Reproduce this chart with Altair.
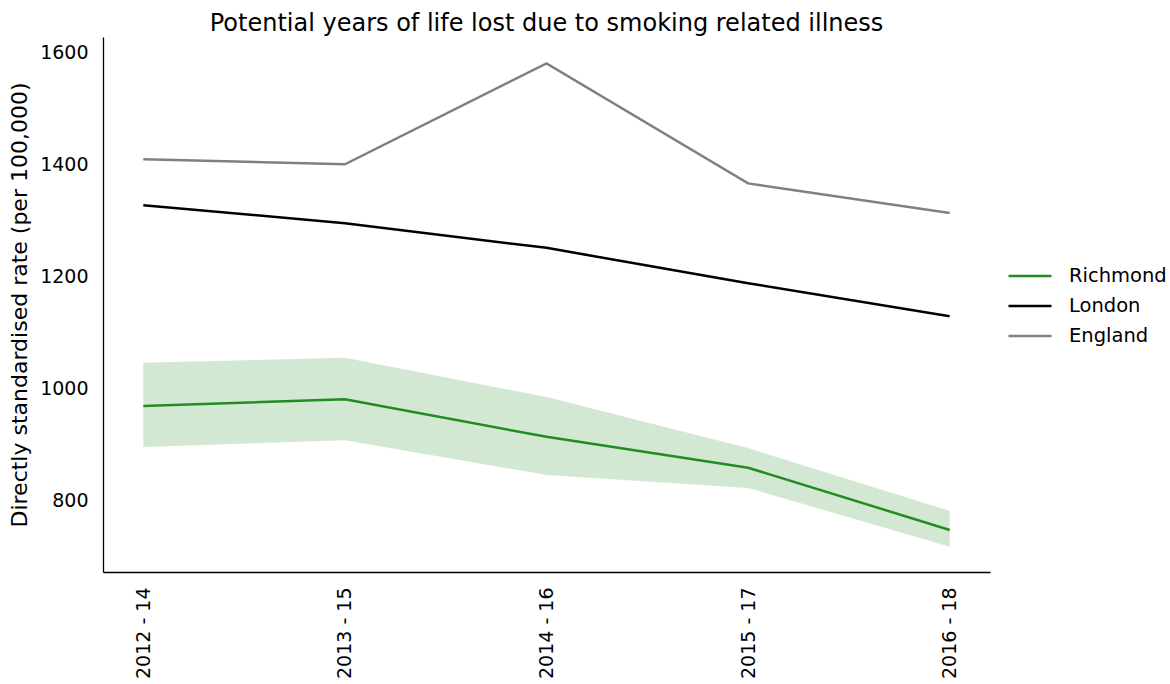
import altair as alt
import pandas as pd

periods = ["2012 - 14", "2013 - 15", "2014 - 16", "2015 - 17", "2016 - 18"]
richmond = [969, 981, 914, 859, 748]
richmond_lower = [896, 908, 846, 823, 718]
richmond_upper = [1046, 1055, 985, 894, 782]
london = [1327, 1295, 1251, 1188, 1129]
england = [1409, 1400, 1580, 1366, 1313]

areas = ["Richmond", "London", "England"]
colors = ["#228b22", "#000000", "#808080"]

lines_df = pd.DataFrame(
    [{"period": p, "area": "Richmond", "rate": v} for p, v in zip(periods, richmond)]
    + [{"period": p, "area": "London", "rate": v} for p, v in zip(periods, london)]
    + [{"period": p, "area": "England", "rate": v} for p, v in zip(periods, england)]
)
band_df = pd.DataFrame({"period": periods, "lower": richmond_lower, "upper": richmond_upper})

FONT = "DejaVu Sans"

x_enc = alt.X(
    "period:N",
    sort=periods,
    scale=alt.Scale(type="point", padding=0.2),
    axis=alt.Axis(
        title=None,
        labelAngle=270,
        labelFontSize=19,
        labelPadding=15,
        ticks=False,
        domainColor="#000000",
        domainWidth=1.3,
        labelColor="#000000",
        labelFont=FONT,
    ),
)
y_scale = alt.Scale(domain=[673, 1627], nice=False, zero=False)

band = alt.Chart(band_df).mark_area(color="#228b22", opacity=0.2).encode(
    x=x_enc,
    y=alt.Y("lower:Q", scale=y_scale),
    y2="upper:Q",
)

lines = alt.Chart(lines_df).mark_line(strokeWidth=2.5).encode(
    x=x_enc,
    y=alt.Y(
        "rate:Q",
        scale=y_scale,
        axis=alt.Axis(
            title="Directly standardised rate (per 100,000)",
            values=[800, 1000, 1200, 1400, 1600],
            format="d",
            grid=False,
            ticks=False,
            labelFontSize=19,
            labelPadding=15,
            labelFont=FONT,
            labelColor="#000000",
            titleFont=FONT,
            titleFontSize=22,
            titleFontWeight="normal",
            titleColor="#000000",
            titlePadding=8,
            domainColor="#000000",
            domainWidth=1.3,
        ),
    ),
    color=alt.Color(
        "area:N",
        scale=alt.Scale(domain=areas, range=colors),
        sort=areas,
        legend=alt.Legend(
            title=None,
            orient="none",
            legendX=915,
            legendY=227,
            symbolType="M-2,0H2",
            symbolSize=462,
            symbolStrokeWidth=2.5,
            labelFontSize=19.5,
            labelFont=FONT,
            labelColor="#000000",
            labelOffset=27,
            rowPadding=8,
        ),
    ),
    order=alt.Order("period:N"),
)

chart = (
    alt.layer(band, lines)
    .properties(
        width=887,
        height=535,
        autosize="none",
        padding={"left": 103, "top": 37, "right": 180, "bottom": 112},
        title=alt.TitleParams(
            "Potential years of life lost due to smoking related illness",
            font=FONT,
            fontSize=24,
            fontWeight="normal",
            color="#000000",
            anchor="middle",
            offset=1,
        ),
    )
    .configure_view(stroke=None)
)

chart.save("out.html", embed_options={"renderer": "svg", "actions": False})
